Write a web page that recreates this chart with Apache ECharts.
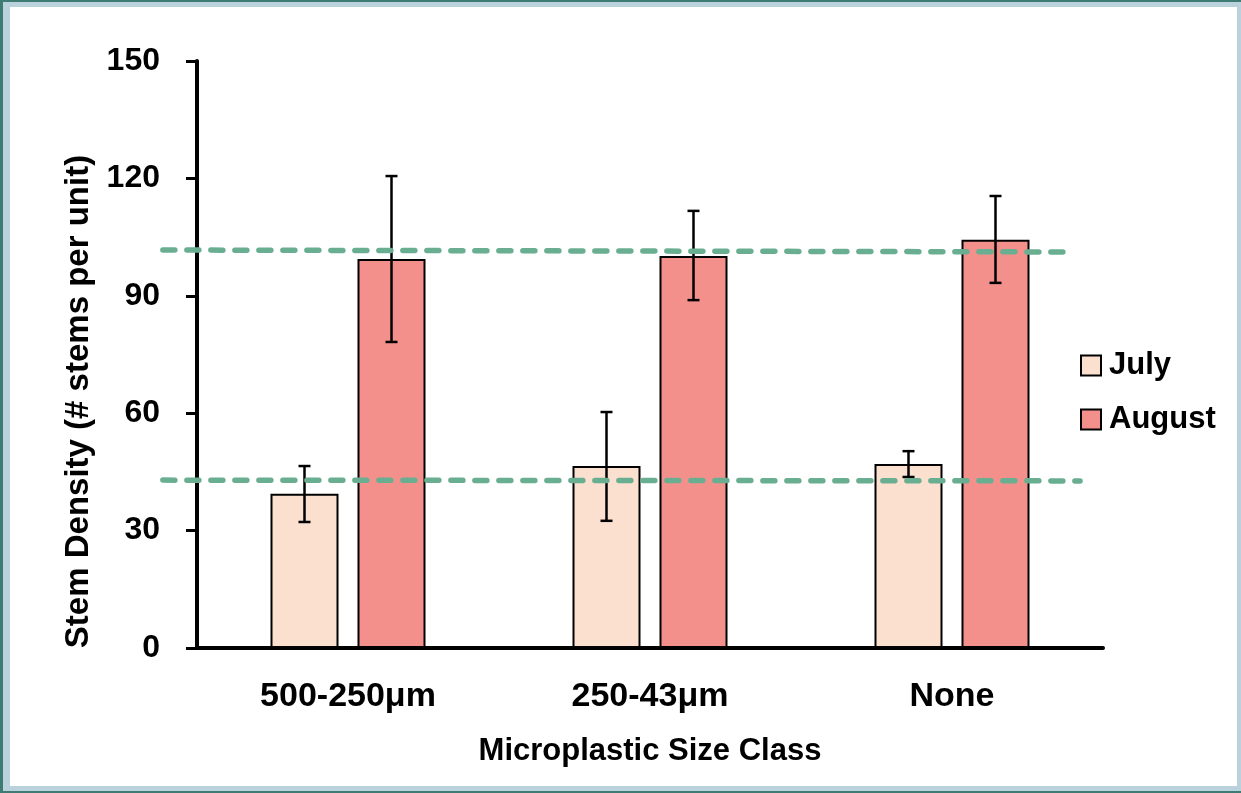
<!DOCTYPE html>
<html>
<head>
<meta charset="utf-8">
<script src="https://cdn.jsdelivr.net/npm/echarts@6/dist/echarts.min.js"></script>
<style>
html,body{margin:0;padding:0;width:1241px;height:793px;overflow:hidden;background:#3e7b73;}
#frame{position:absolute;left:3px;top:2px;width:1238px;height:789px;background:#bad2dc;}
#inner{position:absolute;left:10px;top:7px;width:1227px;height:779px;background:#ffffff;}
#chart{position:absolute;left:0;top:0;width:1241px;height:793px;}
</style>
</head>
<body>
<div id="frame"></div>
<div id="inner"></div>
<div id="chart"></div>
<script>
var categories = ['500-250\u03bcm', '250-43\u03bcm', 'None'];
var seriesNames = ['July', 'August'];
var julyValues = [39.4, 46.5, 47.0];
var augustValues = [99.4, 100.2, 104.3];
var julyErrLow = [32.2, 32.5, 43.7];
var julyErrHigh = [46.5, 60.3, 50.3];
var augustErrLow = [78.2, 88.9, 93.3];
var augustErrHigh = [120.6, 111.7, 115.5];
var yTicks = [0, 30, 60, 90, 120, 150];
// reference lines: [x position in category units (0 = left axis), value]
var upperLine = [[-0.113, 101.7], [2.887, 101.2]];
var lowerLine = [[-0.113, 42.9], [2.924, 42.7]];

var FONT = 'Liberation Sans';
var BAR_W = 68, BAR_GAP = 19;
var G_LEFT = 197, G_RIGHT = 138, G_TOP = 61, G_BOTTOM = 145;
var CAT_PX = (1241 - G_LEFT - G_RIGHT) / categories.length;
var EXT = 0.2; // hidden overlay axis extends left of the y axis

function errData(low, high) {
  return categories.map(function (c, i) { return [i, low[i], high[i]]; });
}
function makeErr(low, high, sign) {
  return {
    type: 'custom',
    z: 5,
    data: errData(low, high),
    renderItem: function (params, api) {
      var i = api.value(0);
      var lo = api.coord([i, api.value(1)]);
      var hi = api.coord([i, api.value(2)]);
      var x = lo[0] + sign * (BAR_W + BAR_GAP) / 2;
      var cap = 6;
      var st = { stroke: '#000', lineWidth: 2.5 };
      return {
        type: 'group',
        children: [
          { type: 'line', shape: { x1: x, y1: lo[1], x2: x, y2: hi[1] }, style: st },
          { type: 'line', shape: { x1: x - cap, y1: lo[1], x2: x + cap, y2: lo[1] }, style: st },
          { type: 'line', shape: { x1: x - cap, y1: hi[1], x2: x + cap, y2: hi[1] }, style: st }
        ]
      };
    }
  };
}
function dashLine(d) {
  return {
    type: 'line',
    xAxisIndex: 1,
    yAxisIndex: 1,
    data: d,
    symbol: 'none',
    clip: false,
    z: 10,
    silent: true,
    lineStyle: { color: '#6aae92', width: 5.5, type: [12, 12], cap: 'round' }
  };
}

var chart = echarts.init(document.getElementById('chart'));
chart.setOption({
  animation: false,
  backgroundColor: 'transparent',
  textStyle: { fontFamily: FONT },
  grid: [
    { left: G_LEFT, top: G_TOP, right: G_RIGHT, bottom: G_BOTTOM },
    { left: G_LEFT - EXT * CAT_PX, top: G_TOP, right: G_RIGHT, bottom: G_BOTTOM }
  ],
  legend: {
    orient: 'vertical',
    left: 1080,
    top: 350,
    padding: 0,
    itemWidth: 20,
    itemHeight: 20,
    itemGap: 23,
    icon: 'rect',
    data: seriesNames,
    textStyle: { fontFamily: FONT, fontWeight: 'bold', fontSize: 31, color: '#000', padding: [0, 0, 0, 3] }
  },
  xAxis: [{
    type: 'category',
    gridIndex: 0,
    data: categories,
    name: 'Microplastic Size Class',
    nameLocation: 'middle',
    nameGap: 88,
    nameTextStyle: { fontFamily: FONT, fontWeight: 'bold', fontSize: 31, color: '#000' },
    axisLine: { lineStyle: { color: '#000', width: 4 } },
    axisTick: { alignWithLabel: true, length: 8, lineStyle: { color: '#000', width: 3 } },
    axisLabel: { fontFamily: FONT, fontWeight: 'bold', fontSize: 34, color: '#000', margin: 32 }
  }, {
    type: 'value', gridIndex: 1, min: -EXT, max: categories.length, show: false
  }],
  yAxis: [{
    type: 'value',
    gridIndex: 0,
    min: yTicks[0],
    max: yTicks[yTicks.length - 1],
    interval: yTicks[1] - yTicks[0],
    name: 'Stem Density (# stems per unit)',
    nameLocation: 'middle',
    nameGap: 94,
    nameTextStyle: { fontFamily: FONT, fontWeight: 'bold', fontSize: 33, color: '#000', padding: [0, 94, 0, 0] },
    axisLine: { show: true, lineStyle: { color: '#000', width: 4 } },
    axisTick: { show: true, length: 11, lineStyle: { color: '#000', width: 3 } },
    axisLabel: { fontFamily: FONT, fontWeight: 'bold', fontSize: 32, color: '#000', margin: 37 },
    splitLine: { show: false }
  }, {
    type: 'value', gridIndex: 1, min: yTicks[0], max: yTicks[yTicks.length - 1], show: false
  }],
  series: [
    {
      name: 'July', type: 'bar', data: julyValues, barWidth: BAR_W, barGap: (BAR_GAP / BAR_W * 100) + '%',
      itemStyle: { color: '#fbe0d0', borderColor: '#000', borderWidth: 2 }
    },
    {
      name: 'August', type: 'bar', data: augustValues, barWidth: BAR_W,
      itemStyle: { color: '#f4908c', borderColor: '#000', borderWidth: 2 }
    },
    makeErr(julyErrLow, julyErrHigh, -1),
    makeErr(augustErrLow, augustErrHigh, 1),
    dashLine(upperLine),
    dashLine(lowerLine)
  ]
});
</script>
</body>
</html>
